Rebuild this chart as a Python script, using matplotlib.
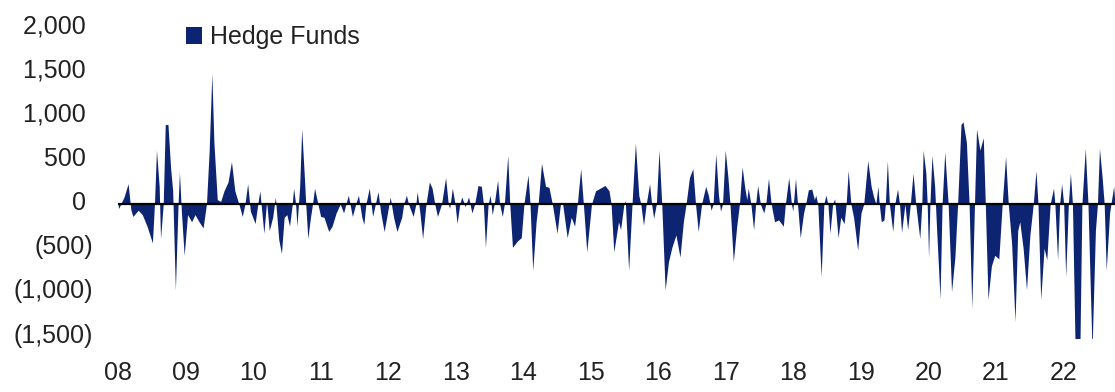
import matplotlib
matplotlib.use("Agg")
import matplotlib.pyplot as plt
from matplotlib.patches import Patch
from matplotlib.transforms import ScaledTranslation

# weekly hedge fund flows, read at turning points (decimal year, $mn)
years = [
    2008.00, 2008.01, 2008.09, 2008.15, 2008.19, 2008.22, 2008.30, 2008.36, 2008.43, 2008.51,
    2008.54, 2008.57, 2008.61, 2008.63, 2008.67, 2008.70, 2008.74, 2008.78, 2008.81, 2008.85,
    2008.89, 2008.91, 2008.94, 2008.98, 2009.03, 2009.09, 2009.14, 2009.20, 2009.26, 2009.31,
    2009.35, 2009.39, 2009.42, 2009.47, 2009.52, 2009.57, 2009.63, 2009.68, 2009.73, 2009.79,
    2009.84, 2009.88, 2009.92, 2009.96, 2010.03, 2010.07, 2010.10, 2010.16, 2010.20, 2010.24,
    2010.29, 2010.33, 2010.38, 2010.42, 2010.46, 2010.50, 2010.54, 2010.58, 2010.60, 2010.63,
    2010.65, 2010.69, 2010.72, 2010.76, 2010.78, 2010.81, 2010.85, 2010.88, 2010.91, 2010.96,
    2011.00, 2011.05, 2011.12, 2011.17, 2011.23, 2011.29, 2011.34, 2011.41, 2011.47, 2011.52,
    2011.56, 2011.61, 2011.64, 2011.67, 2011.72, 2011.77, 2011.81, 2011.85, 2011.89, 2011.94,
    2011.99, 2012.03, 2012.08, 2012.13, 2012.20, 2012.23, 2012.27, 2012.30, 2012.37, 2012.41,
    2012.43, 2012.47, 2012.51, 2012.56, 2012.61, 2012.65, 2012.69, 2012.73, 2012.79, 2012.85,
    2012.89, 2012.91, 2012.95, 2012.99, 2013.02, 2013.06, 2013.09, 2013.14, 2013.19, 2013.24,
    2013.28, 2013.33, 2013.38, 2013.41, 2013.44, 2013.48, 2013.51, 2013.54, 2013.57, 2013.62,
    2013.65, 2013.69, 2013.72, 2013.77, 2013.80, 2013.84, 2013.91, 2013.97, 2014.01, 2014.07,
    2014.10, 2014.14, 2014.19, 2014.22, 2014.27, 2014.33, 2014.38, 2014.43, 2014.50, 2014.55,
    2014.58, 2014.65, 2014.71, 2014.76, 2014.80, 2014.85, 2014.89, 2014.94, 2015.01, 2015.07,
    2015.14, 2015.21, 2015.27, 2015.30, 2015.34, 2015.41, 2015.44, 2015.49, 2015.51, 2015.56,
    2015.61, 2015.66, 2015.71, 2015.74, 2015.78, 2015.82, 2015.87, 2015.90, 2015.93, 2015.97,
    2016.01, 2016.05, 2016.10, 2016.15, 2016.20, 2016.26, 2016.32, 2016.37, 2016.41, 2016.46,
    2016.51, 2016.55, 2016.59, 2016.64, 2016.70, 2016.74, 2016.78, 2016.81, 2016.85, 2016.89,
    2016.92, 2016.95, 2016.99, 2017.03, 2017.06, 2017.11, 2017.16, 2017.20, 2017.24, 2017.28,
    2017.31, 2017.33, 2017.37, 2017.41, 2017.44, 2017.47, 2017.51, 2017.56, 2017.59, 2017.63,
    2017.67, 2017.72, 2017.78, 2017.85, 2017.88, 2017.93, 2017.97, 2017.99, 2018.03, 2018.06,
    2018.10, 2018.15, 2018.18, 2018.22, 2018.27, 2018.31, 2018.33, 2018.36, 2018.41, 2018.45,
    2018.48, 2018.51, 2018.54, 2018.58, 2018.61, 2018.64, 2018.66, 2018.70, 2018.75, 2018.78,
    2018.81, 2018.85, 2018.89, 2018.95, 2019.00, 2019.04, 2019.10, 2019.15, 2019.18, 2019.22,
    2019.25, 2019.27, 2019.30, 2019.34, 2019.36, 2019.39, 2019.42, 2019.47, 2019.50, 2019.54,
    2019.57, 2019.60, 2019.65, 2019.69, 2019.73, 2019.77, 2019.81, 2019.87, 2019.90, 2019.92,
    2019.96, 2019.98, 2020.00, 2020.02, 2020.05, 2020.09, 2020.12, 2020.17, 2020.20, 2020.24,
    2020.29, 2020.34, 2020.39, 2020.43, 2020.48, 2020.51, 2020.56, 2020.60, 2020.64, 2020.68,
    2020.71, 2020.76, 2020.81, 2020.84, 2020.88, 2020.93, 2020.98, 2021.04, 2021.09, 2021.14,
    2021.18, 2021.23, 2021.28, 2021.32, 2021.35, 2021.40, 2021.45, 2021.50, 2021.55, 2021.59,
    2021.62, 2021.66, 2021.71, 2021.75, 2021.80, 2021.85, 2021.87, 2021.91, 2021.94, 2021.97,
    2022.00, 2022.03, 2022.07, 2022.10, 2022.13, 2022.17, 2022.24, 2022.27, 2022.32, 2022.36,
    2022.42, 2022.47, 2022.50, 2022.53, 2022.57, 2022.60, 2022.63, 2022.68, 2022.70, 2022.74,
    2022.76,
]
flows = [
    0, -50, 80, 230, -60, -140, -70, -120, -250, -440,
    0, 610, 200, -390, 0, 900, 900, 400, 150, -970,
    0, 360, -100, -580, -120, -200, -120, -200, -270, 0,
    600, 1480, 700, 50, 30, 150, 250, 480, 150, 0,
    -140, 0, 230, -80, -220, 0, 150, -330, 30, -300,
    -150, 80, -400, -560, -150, -120, -250, 0, 180, 0,
    -250, 200, 850, 300, 0, -390, -150, 0, 180, 0,
    -140, -150, -310, -250, -100, 0, -100, 100, -140, 0,
    100, -150, -230, 0, 180, -140, 0, 140, -100, -310,
    -100, 80, -150, -310, -150, 0, 100, 0, -140, 0,
    140, -100, -390, 0, 250, 180, 0, -140, 0, 300,
    0, -50, 180, 0, -220, 0, 80, -30, 80, -100,
    0, 210, 200, 0, -490, 0, 100, -120, 0, 270,
    0, -140, 0, 550, 0, -490, -420, -380, 0, 330,
    0, -750, -200, 0, 460, 200, 190, 0, -330, 0,
    20, -380, -150, -250, 0, 400, 0, -540, 0, 150,
    180, 210, 150, 0, -540, -200, -290, 0, 40, -750,
    0, 690, 100, 0, -240, 0, 230, 0, -160, 0,
    610, 0, -970, -650, -490, -350, -600, -200, 0, 300,
    400, 0, -310, 0, 200, 100, -70, 0, 570, 100,
    -80, 0, 610, 300, 0, -650, -250, 0, 420, 180,
    50, 180, 0, -290, 0, 210, 0, -100, 0, 290,
    0, -200, -180, -250, 0, 300, 0, -80, 290, 0,
    -380, -100, 0, 160, 170, 50, 100, 0, -820, 0,
    100, 0, -330, 0, 60, -200, -380, -150, -220, 0,
    380, 0, -150, -520, -100, 0, 490, 200, 100, 0,
    200, 0, -200, -180, 0, 490, 0, -310, 0, 170,
    0, -320, 0, -290, 0, 350, 0, -390, 0, 610,
    350, 0, -610, 0, 550, 200, -300, -1070, 0, 590,
    0, -990, -600, 0, 900, 930, 700, 0, -1180, 0,
    850, 610, 750, 0, -1080, -700, -580, -620, 0, 540,
    0, -450, -1330, -300, -200, -500, -970, -350, 0, 380,
    0, -1080, -500, -630, 0, 180, 0, -630, 0, 230,
    0, -820, 0, 350, 0, -1650, -1650, 0, 630, 0,
    -1650, -300, 0, 630, 300, 0, -750, -100, 0, 200,
    0,
]

year_ticks = list(range(2008, 2023))
year_labels = [f"{y % 100:02d}" for y in year_ticks]
flow_ticks = [-1500, -1000, -500, 0, 500, 1000, 1500, 2000]
flow_labels = ["(1,500)", "(1,000)", "(500)", "0 ", "500 ", "1,000 ", "1,500 ", "2,000 "]

NAVY = "#0c2472"
TEXT = "#222222"

plt.rcParams["font.family"] = ["Liberation Sans", "DejaVu Sans"]

fig = plt.figure(figsize=(11.15, 3.92), dpi=100)
ax = fig.add_axes([0.1058, 0.1367, 0.8942, 0.8051])

ax.fill_between(years, 0, flows, color=NAVY, linewidth=0)
ax.axhline(0, color="black", linewidth=1.6, zorder=3)

ax.set_xlim(2008.0, 2022.76)
ax.set_ylim(-1520, 2050)
ax.set_xticks(year_ticks)
ax.set_xticklabels(year_labels)
ax.set_yticks(flow_ticks)
ax.set_yticklabels(flow_labels)
ax.tick_params(axis="both", length=0, labelsize=18, labelcolor=TEXT)
ax.tick_params(axis="y", pad=18)
ax.tick_params(axis="x", pad=16)
for side in ax.spines:
    ax.spines[side].set_visible(False)

# value labels sit a touch above their gridline values
lift = ScaledTranslation(0, 0.035, fig.dpi_scale_trans)
for lbl in ax.get_yticklabels():
    lbl.set_transform(lbl.get_transform() + lift)

fig.legend(
    [Patch(facecolor=NAVY, edgecolor="none")],
    ["Hedge Funds"],
    loc="upper left",
    bbox_to_anchor=(0.1668, 0.935),
    frameon=False,
    fontsize=18,
    handlelength=0.65,
    handleheight=0.65,
    handletextpad=0.3,
    borderpad=0,
    borderaxespad=0,
    labelcolor=TEXT,
)

fig.savefig("out.png", dpi=100)
